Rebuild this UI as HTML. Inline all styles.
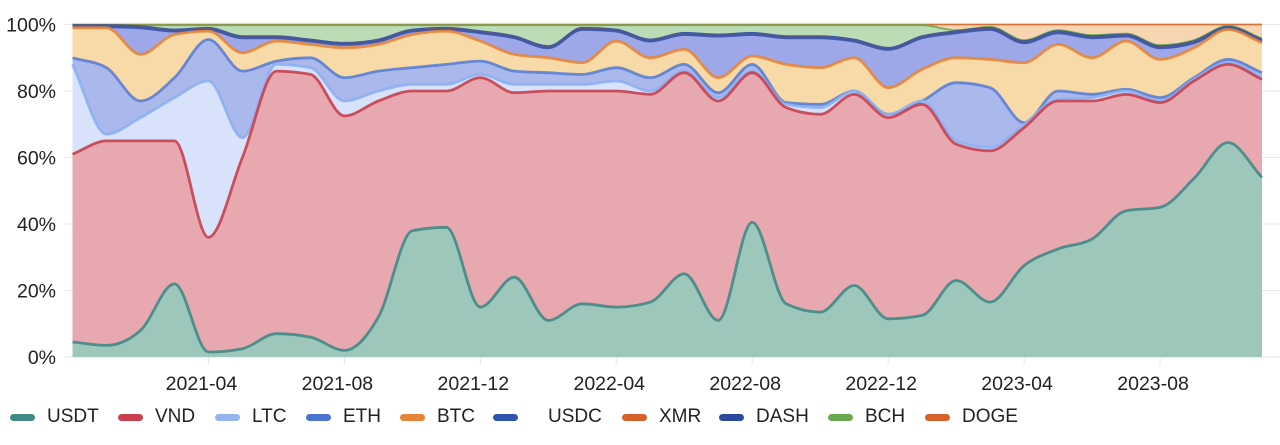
<!DOCTYPE html>
<html><head><meta charset="utf-8"><style>
body{margin:0;background:#fff;width:1280px;height:440px;overflow:hidden;font-family:"Liberation Sans",sans-serif;}
#wrap{position:relative;width:1280px;height:440px;}
.leg{position:absolute;top:405px;height:24px;display:flex;align-items:center;font-size:19px;color:#222;}
.mk{display:inline-block;width:25px;height:7px;border-radius:4px;margin-right:12px;}
</style></head><body>
<div id="wrap">
<svg id="chart" width="1280" height="440"></svg>
<div id="legend"></div>
</div>
<script>
const dates = ["2020-12","2021-01","2021-02","2021-03","2021-04","2021-05","2021-06","2021-07","2021-08","2021-09","2021-10","2021-11","2021-12","2022-01","2022-02","2022-03","2022-04","2022-05","2022-06","2022-07","2022-08","2022-09","2022-10","2022-11","2022-12","2023-01","2023-02","2023-03","2023-04","2023-05","2023-06","2023-07","2023-08","2023-09","2023-10","2023-11"];
const xTicks = ["2021-04","2021-08","2021-12","2022-04","2022-08","2022-12","2023-04","2023-08"];
const yTicks = [0,20,40,60,80,100];
const seriesNames = ["USDT","VND","LTC","ETH","BTC","USDC","XMR","DASH","BCH","DOGE"];
const USDT = [4.5,3.5,8,22,1.5,2.5,7,6,2,12,38,39,15,24,11,16,15,16.5,25,11,40.5,16,13.5,21.5,11.5,12.5,23,16.5,27.5,32.5,35.5,44,45,53.7,64.5,54];
const VND  = [56.5,61.5,57,43,34.5,57.5,79,79,70.5,65,42,41,69,55.5,69,64,65,62.5,60.5,66,45,59,59.5,57.5,60.5,63.5,41,45.5,41.5,44.5,41.5,35,31.5,29.3,23.5,29.5];
const LTC  = [27,2,7,13,47,6,2,2,4.5,3,2,2,1,2.5,2,2,3,1,0.5,1,0.5,1,2,1,1,1,1,1,1,0.5,1,1,0.5,0.5,0.5,0.5];
const ETH  = [2,20,5,6,12.5,20,1,3,7,6,5,6,4,4,3.5,3,4,4,2,1.5,2,0.5,1,0,0,0,17.5,18,0.5,2.5,1,0.5,1,0.5,1,1.5];
const BTC  = [9,12,14,13,2.5,5.5,6,4,9,8,10,10,6,5,4.5,3.5,8,6,4.5,4.5,2.5,11.5,11,10,8,9.5,7.5,8.5,18,14,11,14.5,11.5,9,9,9];
const USDC = [0.3,0.3,8,1,0.5,4.5,1,1,1,1,1,0.5,2.5,5,3,10,3,5,4.5,12.5,6.5,8,9,5,11.5,9.5,7.5,9,6,3.5,6,1.5,3.5,1.5,0.3,0.5];
const XMR  = [0.2,0.2,0.2,0.2,0.2,0.2,0.2,0.2,0.2,0.2,0.2,0.2,0.2,0.2,0.2,0.2,0.2,0.2,0.2,0.2,0.2,0.2,0.2,0.2,0.2,0.2,0.2,0.2,0.2,0.2,0.2,0.2,0.2,0.2,0.2,0.2];
const DASH = [0.3,0.3,0.3,0.3,0.3,0.3,0.3,0.3,0.3,0.3,0.3,0.3,0.3,0.3,0.3,0.3,0.3,0.3,0.3,0.3,0.3,0.3,0.3,0.3,0.3,0.3,0.3,0.3,0.3,0.3,0.3,0.3,0.3,0.3,0.3,0.3];
const BCH  = [0,0,0.3,1.3,0.8,3.3,3.3,4.3,5.3,4.3,1.3,0.8,1.8,3.3,6.3,0.8,1.3,4.3,2.3,2.8,2.3,3.3,3.3,4.3,6.8,3.3,0.3,0.3,0.3,0.3,0.3,0.3,0.3,0.3,0.3,0.3];
const DOGE = [0.2,0.2,0.2,0.2,0.2,0.2,0.2,0.2,0.2,0.2,0.2,0.2,0.2,0.2,0.2,0.2,0.2,0.2,0.2,0.2,0.2,0.2,0.2,0.2,0.2,0.2,1.7,0.7,4.7,1.7,3.2,2.7,6.2,4.7,0.4,4.2];

const values=[USDT,VND,LTC,ETH,BTC,USDC,XMR,DASH,BCH,DOGE];
const fills=["#9dc7bb","#e8a8b0","#d8e3fb","#abb8ec","#f8d9a8","#9ea8e8","#f3b48a","#8fa0dc","#bcdcb6","#f7d5b0"];
const lines=["#3f8a86","#c8404f","#8cb0f2","#5a7fd4","#e8843a","#3455a8","#d6622a","#2a4aa2","#6aa84f","#d4652a"];
const X0=72.5,X1=1262,Y0=357,Y1=24.5;
const N=dates.length;
const xs=i=>X0+(X1-X0)*i/(N-1);
const ys=p=>Y0-(Y0-Y1)*p/100;
const svg=document.getElementById('chart');
const NS="http://www.w3.org/2000/svg";
function mk(tag,attrs){const e=document.createElementNS(NS,tag);for(const k in attrs)e.setAttribute(k,attrs[k]);return e;}
const cum=[];
for(let s=0;s<values.length;s++){cum.push([]);}
for(let i=0;i<N;i++){let tot=0;values.forEach(v=>tot+=v[i]);let acc=0;for(let s=0;s<values.length;s++){acc+=values[s][i]/tot*100;cum[s].push(acc);}}
// monotone X cubic
function curve(pts){const n=pts.length;const dx=[],m=[],t=[];
for(let i=0;i<n-1;i++){dx.push(pts[i+1][0]-pts[i][0]);m.push((pts[i+1][1]-pts[i][1])/dx[i]);}
for(let i=0;i<n;i++){if(i==0)t.push(m[0]);else if(i==n-1)t.push(m[n-2]);else{const a=m[i-1],b=m[i];if(a*b<=0)t.push(0);else{const h0=dx[i-1],h1=dx[i];const p=(a*h1+b*h0)/(h0+h1);t.push((Math.sign(a)+Math.sign(b))*Math.min(Math.abs(a),Math.abs(b),0.5*Math.abs(p)));}}}
let d="M"+pts[0][0].toFixed(1)+","+pts[0][1].toFixed(1);
for(let i=0;i<n-1;i++){const h=dx[i]/3;d+=" C"+(pts[i][0]+h).toFixed(1)+","+(pts[i][1]+h*t[i]).toFixed(1)+" "+(pts[i+1][0]-h).toFixed(1)+","+(pts[i+1][1]-h*t[i+1]).toFixed(1)+" "+pts[i+1][0].toFixed(1)+","+pts[i+1][1].toFixed(1);}
return d;}
yTicks.forEach(t=>{const y=ys(t);
const g=mk('line',{x1:65,x2:1280,y1:y,y2:y,stroke:'#e6e6e6','stroke-width':1});


svg.appendChild(g);
const tx=mk('text',{x:56,y:y+7,'text-anchor':'end','font-size':19.5,fill:'#222'});tx.textContent=t+'%';


svg.appendChild(tx);});
xTicks.forEach(t=>{const i=dates.indexOf(t);const x=xs(i);
const g=mk('line',{x1:x,x2:x,y1:Y1,y2:Y0+8,stroke:'#e6e6e6','stroke-width':1});


svg.appendChild(g);
const tx=mk('text',{x:x-7,y:390,'text-anchor':'middle','font-size':19.5,fill:'#222'});tx.textContent=t;


svg.appendChild(tx);});
for(let s=values.length-1;s>=0;s--){const pts=cum[s].map((v,i)=>[xs(i),ys(v)]);
const a=mk('path',{d:curve(pts)+" L"+X1+","+Y0+" L"+X0+","+Y0+" Z",fill:fills[s],stroke:'none'});


svg.appendChild(a);}
for(let s=values.length-1;s>=0;s--){const pts=cum[s].map((v,i)=>[xs(i),ys(v)]);
const l=mk('path',{d:curve(pts),fill:'none',stroke:lines[s],'stroke-width':s<6?2.8:1.8,'stroke-opacity':0.9});


svg.appendChild(l);}
const legX=[10,118,215,306,400,493,622,719,828,925];
const legColors=["#3f8a86","#c8404f","#93b6f3","#4a74d0","#e8843a","#2f55b0","#d6622a","#2a4aa2","#6aa84f","#d6622a"];
const legend=document.getElementById('legend');
seriesNames.forEach((n,i)=>{const d=document.createElement('div');d.className='leg';d.style.left=legX[i]+'px';


const m=document.createElement('span');m.className='mk';m.style.background=legColors[i];
if(n==="USDC"){m.style.marginRight='30px';}


d.appendChild(m);d.appendChild(document.createTextNode(n));legend.appendChild(d);});
</script>
</body></html>
